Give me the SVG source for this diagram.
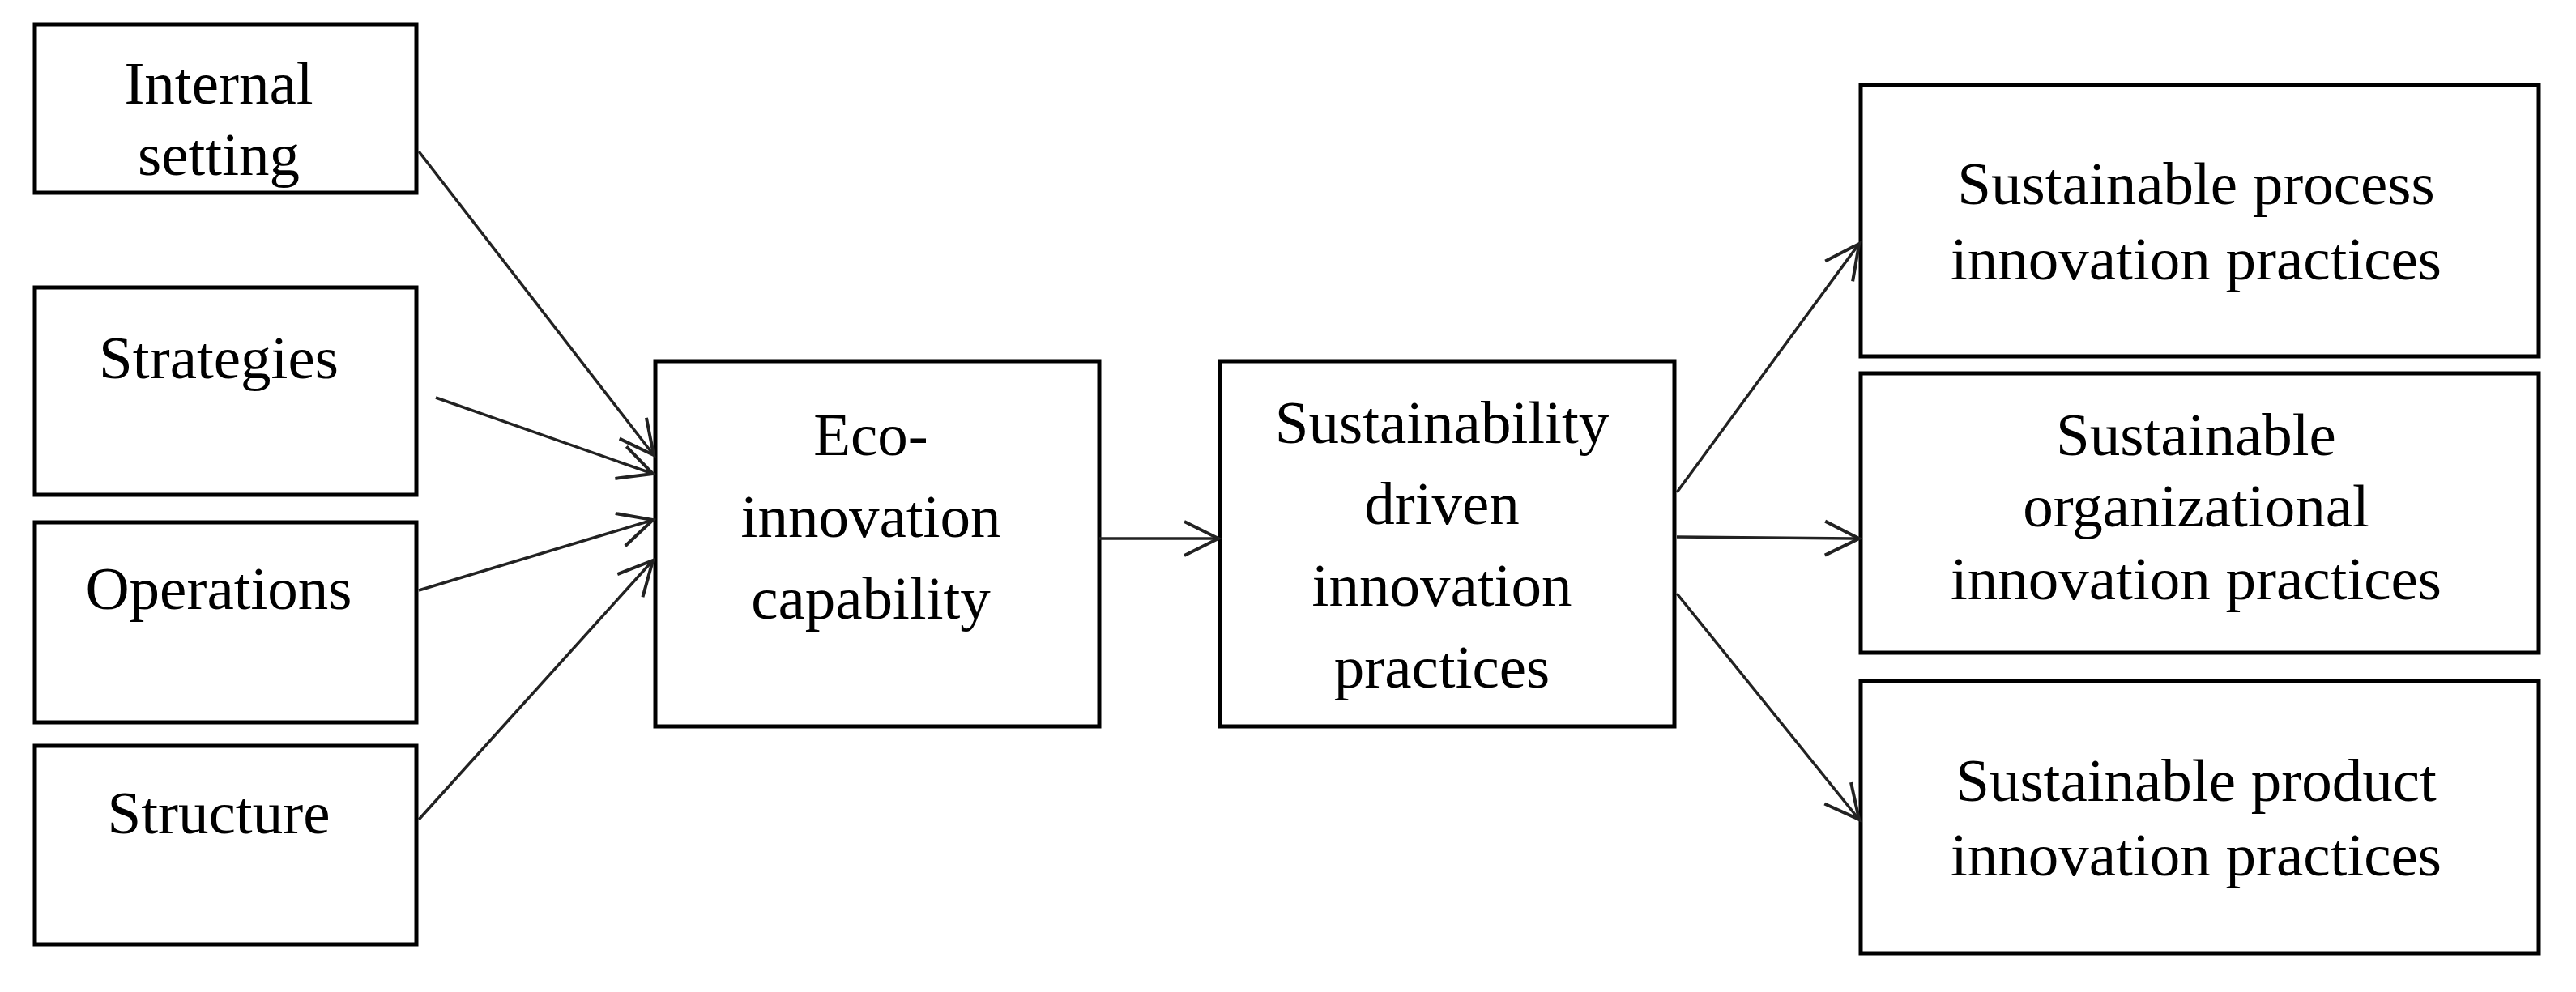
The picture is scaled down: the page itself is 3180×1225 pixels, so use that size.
<svg xmlns="http://www.w3.org/2000/svg" width="3180" height="1225" viewBox="0 0 3180 1225">
<style>
.b{fill:#fff;stroke:#000;stroke-width:5}
.t{font-family:"Liberation Serif","Times New Roman",serif;font-size:75px;fill:#000;text-anchor:middle}
.c{stroke:#222;stroke-width:3.5;fill:none;marker-end:url(#a)}
</style>
<defs>
<marker id="a" markerUnits="userSpaceOnUse" markerWidth="60" markerHeight="60" refX="48" refY="25" orient="auto">
<path d="M6,4 L48,25 L6,46" fill="none" stroke="#222" stroke-width="4"/>
</marker>
</defs>
<rect width="3180" height="1225" fill="#fff"/>
<g id="internal"><rect class="b" x="43" y="30" width="471" height="208"/><text class="t" x="270" y="128">Internal</text><text class="t" x="270" y="216">setting</text></g>
<g id="strategies"><rect class="b" x="43" y="355" width="471" height="256"/><text class="t" x="270" y="467">Strategies</text></g>
<g id="operations"><rect class="b" x="43" y="645" width="471" height="247"/><text class="t" x="270" y="752">Operations</text></g>
<g id="structure"><rect class="b" x="43" y="921" width="471" height="245"/><text class="t" x="270" y="1029">Structure</text></g>
<g id="eco"><rect class="b" x="809" y="446" width="548" height="451"/><text class="t" x="1075" y="562">Eco-</text><text class="t" x="1075" y="663">innovation</text><text class="t" x="1075" y="764">capability</text></g>
<g id="sdip"><rect class="b" x="1506" y="446" width="561" height="451"/><text class="t" x="1780" y="547">Sustainability</text><text class="t" x="1780" y="647">driven</text><text class="t" x="1780" y="748">innovation</text><text class="t" x="1780" y="849">practices</text></g>
<g id="process"><rect class="b" x="2297" y="105" width="837" height="335"/><text class="t" x="2711" y="252">Sustainable process</text><text class="t" x="2711" y="345">innovation practices</text></g>
<g id="org"><rect class="b" x="2297" y="461" width="837" height="345"/><text class="t" x="2711" y="562">Sustainable</text><text class="t" x="2711" y="650">organizational</text><text class="t" x="2711" y="740">innovation practices</text></g>
<g id="product"><rect class="b" x="2297" y="841" width="837" height="336"/><text class="t" x="2711" y="989">Sustainable product</text><text class="t" x="2711" y="1081">innovation practices</text></g>
<g id="connectors">
<line class="c" x1="517" y1="187" x2="807" y2="562"/>
<line class="c" x1="538" y1="491" x2="806" y2="585"/>
<line class="c" x1="517" y1="729" x2="806" y2="642"/>
<line class="c" x1="517" y1="1012" x2="806" y2="692"/>
<line class="c" x1="1357" y1="665" x2="1504" y2="665"/>
<line class="c" x1="2070" y1="608" x2="2295" y2="301"/>
<line class="c" x1="2070" y1="663" x2="2295" y2="665"/>
<line class="c" x1="2070" y1="733" x2="2295" y2="1012"/>
</g>
</svg>
